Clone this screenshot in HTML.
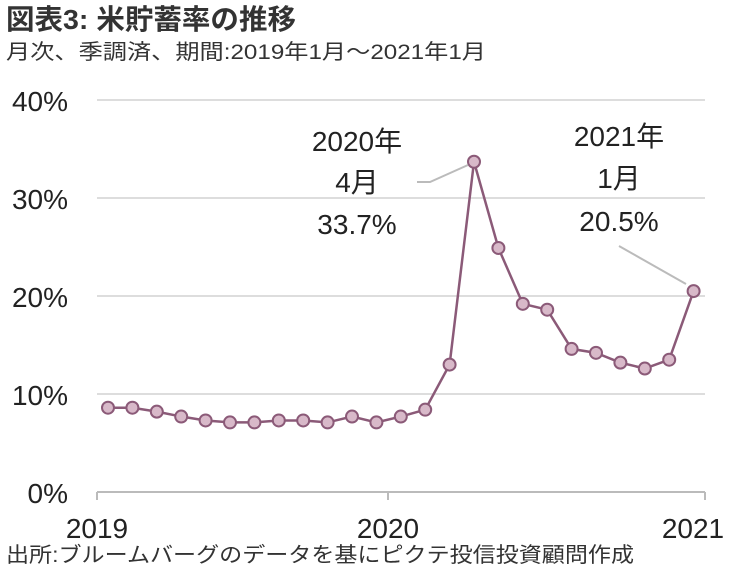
<!DOCTYPE html>
<html><head><meta charset="utf-8"><style>
body{margin:0;background:#fff;width:738px;height:577px;overflow:hidden;font-family:"Liberation Sans","Noto Sans CJK JP",sans-serif}
</style></head><body>
<svg width="738" height="577" style="font-family:'Liberation Sans','Noto Sans CJK JP',sans-serif">
<text x="6" y="29" font-size="28" font-weight="bold" fill="#333" textLength="290" lengthAdjust="spacingAndGlyphs">図表3: 米貯蓄率の推移</text>
<text x="6" y="59" font-size="21" fill="#333" textLength="480" lengthAdjust="spacingAndGlyphs">月次、季調済、期間:2019年1月～2021年1月</text>
<g id="grid"></g>
<g id="series"></g>
<g id="ann" font-size="28" fill="#222" text-anchor="middle">
<text x="357" y="151">2020年</text>
<text x="357" y="192">4月</text>
<text x="357" y="234">33.7%</text>
<polyline points="417,182 430,182 468,165" fill="none" stroke="#bbb" stroke-width="2"/>
<text x="619" y="146">2021年</text>
<text x="619" y="188">1月</text>
<text x="619" y="231">20.5%</text>
<line x1="619" y1="246" x2="686" y2="284" stroke="#bbb" stroke-width="2"/>
</g>
<text x="6" y="562" font-size="21" fill="#333" textLength="628" lengthAdjust="spacingAndGlyphs">出所:ブルームバーグのデータを基にピクテ投信投資顧問作成</text>
</svg>
<script>
const yTicks=[0,10,20,30,40];
const yTickLabels=["0%","10%","20%","30%","40%"];
const xTickLabels=["2019","2020","2021"];
const xTickIdx=[0,12,24];
const values=[8.6,8.6,8.2,7.7,7.3,7.1,7.1,7.3,7.3,7.1,7.7,7.1,7.7,8.4,13.0,33.7,24.9,19.2,18.6,14.6,14.2,13.2,12.6,13.5,20.5];
const NS="http://www.w3.org/2000/svg";
const y=v=>492-v*9.8;
const x=i=>108+i*24.4;
const grid=document.getElementById('grid'),ser=document.getElementById('series');
function mk(t,a,p){const e=document.createElementNS(NS,t);for(const k in a)e.setAttribute(k,a[k]);p.appendChild(e);return e;}
yTicks.forEach((t,i)=>{
 const l=mk('line',{x1:97,x2:705,y1:y(t),y2:y(t),stroke:t===0?'#bbb':'#ddd','stroke-width':2},grid);
 
 
 const tx=mk('text',{x:68,y:y(t)+11,'font-size':28,fill:'#222','text-anchor':'end'},grid);
 tx.textContent=yTickLabels[i];
 
 
});
xTickIdx.forEach((ix,i)=>{
 const xx=ix===0?97:(ix===12?388:705);
 const l=mk('line',{x1:xx,x2:xx,y1:492,y2:500,stroke:'#bbb','stroke-width':2},grid);
 
 
 const tx=mk('text',{x:ix===24?693:(ix===0?97:388),y:538,'font-size':28,fill:'#222','text-anchor':'middle'},grid);
 tx.textContent=xTickLabels[i];
 
 
});
const pl=mk('polyline',{points:values.map((v,i)=>x(i)+','+y(v)).join(' '),fill:'none',stroke:'#8b5a78','stroke-width':2.5},ser);


values.forEach((v,i)=>{
 const c=mk('circle',{cx:x(i),cy:y(v),r:6,fill:'#d8b9c9',stroke:'#8b5a78','stroke-width':2},ser);
 
 
});
</script>
</body></html>
